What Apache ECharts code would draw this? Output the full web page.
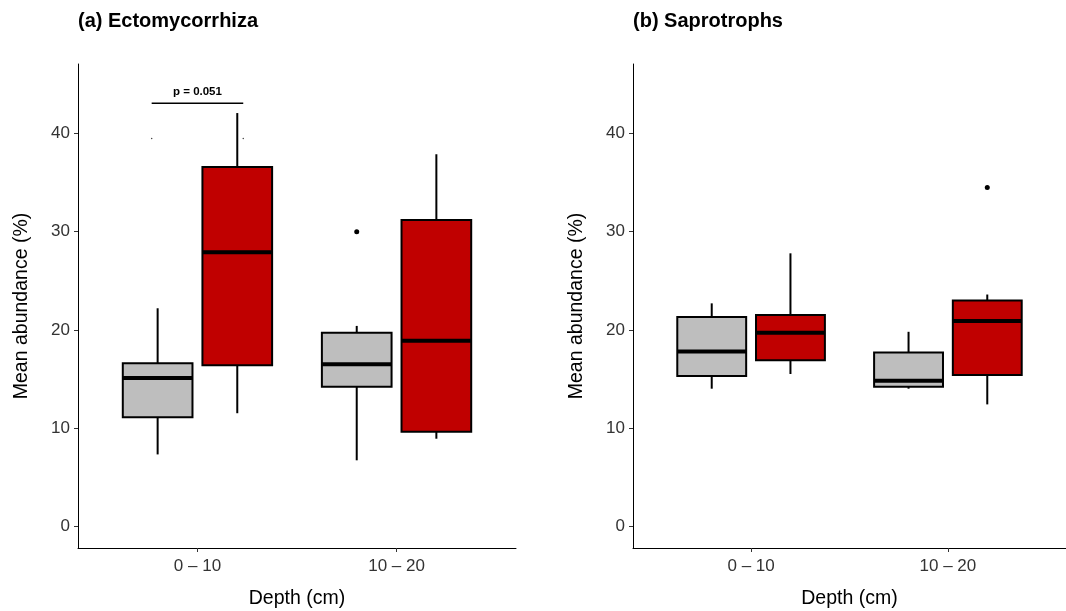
<!DOCTYPE html>
<html>
<head>
<meta charset="utf-8">
<script src="https://cdn.jsdelivr.net/npm/echarts@6/dist/echarts.min.js"></script>
<style>
  html, body { margin: 0; padding: 0; background: #fff; }
  #chart { width: 1066px; height: 611px; }
</style>
</head>
<body>
<div id="chart"></div>
<script>
// categories on the x axis
const depths = ['0 – 10', '10 – 20'];
const yTicks = [0, 10, 20, 30, 40];

// box stats per depth: [low whisker, Q1, median, Q3, high whisker]
const ectoGrey = [[7.3, 11.1, 15.1, 16.6, 22.2], [6.7, 14.2, 16.5, 19.7, 20.4]];
const ectoRed = [[11.5, 16.4, 27.9, 36.6, 42.1], [8.9, 9.6, 18.9, 31.2, 37.9]];
const saproGrey = [[14.0, 15.3, 17.8, 21.3, 22.7], [14.0, 14.2, 14.8, 17.7, 19.8]];
const saproRed = [[15.5, 16.9, 19.7, 21.5, 27.8], [12.4, 15.4, 20.9, 23.0, 23.6]];

// outliers: [depth index, group (0 grey, 1 red), value]
const ectoOutliers = [[1, 0, 30.0]];
const saproOutliers = [[1, 1, 34.5]];

// significance bracket in panel a
const bracketY = 43.1;
const bracketLabel = 'p = 0.051';

const FONT = 'Liberation Sans, Arial, sans-serif';
const dodge = 0.2;
const halfW = 0.175;
const colors = ['#BEBEBE', '#C00000'];

function boxRows (grey, red) {
  const rows = [];
  grey.forEach((s, i) => rows.push([i, 0].concat(s)));
  red.forEach((s, i) => rows.push([i, 1].concat(s)));
  return rows;
}

// 箱线图：须线、箱体、中位线
function renderBox (params, api) {
  const cat = api.value(0);
  const grp = api.value(1);
  const x = cat + 1 + (grp ? dodge : -dodge);
  const low = api.coord([x, api.value(2)]);
  const q1 = api.coord([x - halfW, api.value(3)]);
  const med = api.value(4);
  const q3 = api.coord([x + halfW, api.value(5)]);
  const high = api.coord([x, api.value(6)]);
  const mL = api.coord([x - halfW, med]);
  const mR = api.coord([x + halfW, med]);
  const top = api.coord([x, api.value(5)]);
  const bot = api.coord([x, api.value(3)]);
  return {
    type: 'group',
    children: [
      { type: 'line', shape: { x1: high[0], y1: high[1], x2: top[0], y2: top[1] }, style: { stroke: '#000', lineWidth: 2 } },
      { type: 'line', shape: { x1: low[0], y1: low[1], x2: bot[0], y2: bot[1] }, style: { stroke: '#000', lineWidth: 2 } },
      { type: 'rect', shape: { x: q1[0], y: q3[1], width: q3[0] - q1[0], height: q1[1] - q3[1] }, style: { fill: colors[grp], stroke: '#000', lineWidth: 2 } },
      { type: 'line', shape: { x1: mL[0], y1: mL[1], x2: mR[0], y2: mR[1] }, style: { stroke: '#000', lineWidth: 4 } }
    ]
  };
}

function outlierPoints (list) {
  return list.map(o => [o[0] + 1 + (o[1] ? dodge : -dodge), o[2]]);
}

function xAxisFor (idx) {
  return {
    type: 'value', gridIndex: idx, min: 0.4, max: 2.6,
    name: 'Depth (cm)', nameLocation: 'middle', nameGap: 41,
    nameTextStyle: { fontFamily: FONT, fontSize: 19.5, color: '#000' },
    axisLine: { show: true, onZero: false, lineStyle: { color: '#000', width: 1 } },
    axisTick: { show: true, customValues: [1, 2], length: 4, lineStyle: { color: '#333' } },
    axisLabel: { customValues: [1, 2], formatter: v => depths[Math.round(v) - 1], fontFamily: FONT, fontSize: 17, color: '#333', margin: 10 },
    splitLine: { show: false }
  };
}

function yAxisFor (idx) {
  return {
    type: 'value', gridIndex: idx, min: -2.24, max: 47.1,
    name: 'Mean abundance (%)', nameLocation: 'middle', nameGap: 46,
    nameTextStyle: { fontFamily: FONT, fontSize: 19.5, color: '#000' },
    axisLine: { show: true, onZero: false, lineStyle: { color: '#000', width: 1 } },
    axisTick: { show: true, customValues: yTicks, length: 4, lineStyle: { color: '#333' } },
    axisLabel: { customValues: yTicks, fontFamily: FONT, fontSize: 17, color: '#333', margin: 8 },
    splitLine: { show: false }
  };
}

const chart = echarts.init(document.getElementById('chart'), null, { renderer: 'canvas' });
chart.setOption({
  animation: false,
  backgroundColor: '#fff',
  title: [
    { text: '(a) Ectomycorrhiza', left: 78, top: 11, padding: 0, textStyle: { fontFamily: FONT, fontSize: 20, fontWeight: 'bold', color: '#000' } },
    { text: '(b) Saprotrophs', left: 633, top: 11, padding: 0, textStyle: { fontFamily: FONT, fontSize: 20, fontWeight: 'bold', color: '#000' } }
  ],
  grid: [
    { left: 78, right: 550, top: 64, bottom: 63, outerBoundsMode: 'none' },
    { left: 633, right: 0, top: 64, bottom: 63, outerBoundsMode: 'none' }
  ],
  xAxis: [xAxisFor(0), xAxisFor(1)],
  yAxis: [yAxisFor(0), yAxisFor(1)],
  series: [
    { type: 'custom', xAxisIndex: 0, yAxisIndex: 0, renderItem: renderBox, data: boxRows(ectoGrey, ectoRed), encode: { x: 0, y: [2, 6] } },
    { type: 'custom', xAxisIndex: 1, yAxisIndex: 1, renderItem: renderBox, data: boxRows(saproGrey, saproRed), encode: { x: 0, y: [2, 6] } },
    { type: 'scatter', xAxisIndex: 0, yAxisIndex: 0, symbolSize: 5, itemStyle: { color: '#000', opacity: 1 }, data: outlierPoints(ectoOutliers) },
    { type: 'scatter', xAxisIndex: 1, yAxisIndex: 1, symbolSize: 5, itemStyle: { color: '#000', opacity: 1 }, data: outlierPoints(saproOutliers) },
    {
      type: 'line', xAxisIndex: 0, yAxisIndex: 0, symbol: 'none',
      lineStyle: { color: '#000', width: 1.5 },
      data: [[1 - dodge - 0.03, bracketY], [1 + dodge + 0.03, bracketY]],
      markPoint: {
        symbol: 'rect', symbolSize: 0,
        label: { show: true, formatter: bracketLabel, fontFamily: FONT, fontSize: 11.5, fontWeight: 'bold', color: '#000', position: 'top', distance: 5 },
        data: [{ coord: [1, bracketY] }]
      }
    },
    // 括号两端的细小刻度点
    { type: 'scatter', xAxisIndex: 0, yAxisIndex: 0, symbolSize: 1.5, itemStyle: { color: '#444', opacity: 1 }, data: [[1 - dodge - 0.03, 39.5], [1 + dodge + 0.03, 39.5]] }
  ]
});
</script>
</body>
</html>
